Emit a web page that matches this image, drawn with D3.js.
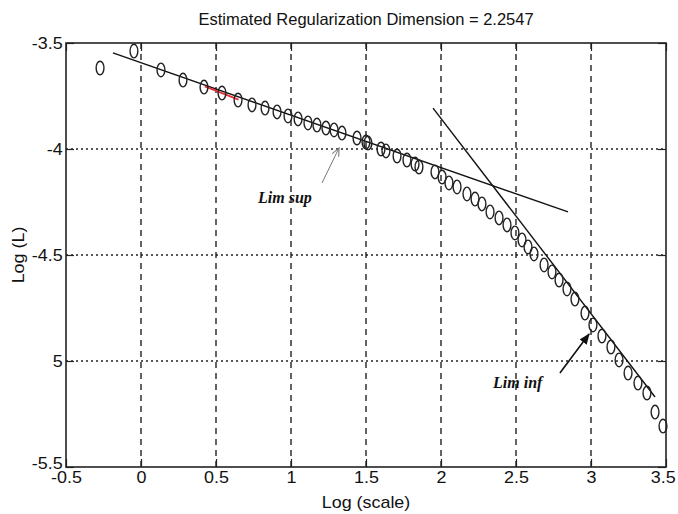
<!DOCTYPE html>
<html>
<head>
<meta charset="utf-8">
<script src="https://cdn.jsdelivr.net/npm/d3@7"></script>
<style>
  body { margin: 0; background: #fff; }
  text { font-family: "Liberation Sans", Arial, sans-serif; fill: #111; }
  .note { font-family: "Liberation Serif", "Times New Roman", serif; font-style: italic; font-weight: bold; }
</style>
</head>
<body>
<svg id="chart" width="678" height="514"></svg>
<script>
// Data
const logScale = [-0.273, -0.047, 0.133, 0.280, 0.420, 0.540, 0.647, 0.740, 0.827, 0.907,
  0.980, 1.047, 1.113, 1.173, 1.233, 1.287, 1.340, 1.440, 1.500, 1.513,
  1.600, 1.633, 1.707, 1.773, 1.827, 1.853, 1.960, 2.007, 2.053, 2.107,
  2.173, 2.227, 2.273, 2.327, 2.387, 2.440, 2.493, 2.540, 2.580, 2.620,
  2.687, 2.740, 2.787, 2.840, 2.893, 2.960, 3.013, 3.073, 3.133, 3.187,
  3.247, 3.313, 3.373, 3.427, 3.480];
const logL = [-3.618, -3.538, -3.627, -3.675, -3.708, -3.736, -3.769, -3.792, -3.807, -3.825,
  -3.844, -3.858, -3.877, -3.887, -3.901, -3.910, -3.925, -3.948, -3.967, -3.972,
  -4.000, -4.009, -4.033, -4.052, -4.071, -4.085, -4.108, -4.132, -4.160, -4.179,
  -4.212, -4.236, -4.259, -4.297, -4.325, -4.358, -4.396, -4.429, -4.462, -4.495,
  -4.547, -4.580, -4.618, -4.660, -4.708, -4.774, -4.830, -4.882, -4.934, -4.995,
  -5.057, -5.104, -5.151, -5.241, -5.307];

// fitted lines
const limSupX = [-0.187, 2.847];
const limSupY = [-3.547, -4.297];
const limInfX = [1.947, 3.427];
const limInfY = [-3.807, -5.170];
const redX = [0.425, 0.650];
const redY = [-3.705, -3.767];

// ticks
const xTicks = [-0.5, 0, 0.5, 1, 1.5, 2, 2.5, 3, 3.5];
const xTickLabels = ['-0.5', '0', '0.5', '1', '1.5', '2', '2.5', '3', '3.5'];
const yTicks = [-3.5, -4, -4.5, -5, -5.5];
const yTickLabels = ['-3.5', '-4', '-4.5', '5', '-5.5'];

// annotations: [label x, label y, arrow from x, from y, arrow to x, to y]
const supNote = [0.780, -4.255, 1.207, -4.160, 1.320, -3.995];
const infNote = [2.347, -5.127, 2.793, -5.057, 2.987, -4.873];

const width = 678;
const height = 514;
const margin = { top: 43, right: 12, bottom: 47, left: 66 };

const svg = d3.select('#chart');

const x = d3.scaleLinear()
  .domain([-0.5, 3.5])
  .range([margin.left, width - margin.right]);

const y = d3.scaleLinear()
  .domain([-5.5, -3.5])
  .range([height - margin.bottom, margin.top]);

// arrow heads
const defs = svg.append('defs');
defs.append('marker')
    .attr('id', 'head-grey')
    .attr('viewBox', '0 0 10 10')
    .attr('refX', 9).attr('refY', 5)
    .attr('markerWidth', 9).attr('markerHeight', 9)
    .attr('markerUnits', 'userSpaceOnUse')
    .attr('orient', 'auto')
  .append('path')
    .attr('d', 'M0,1 L9,5 L0,9')
    .attr('fill', 'none')
    .attr('stroke', '#777')
    .attr('stroke-width', 1.2);
defs.append('marker')
    .attr('id', 'head-black')
    .attr('viewBox', '0 0 10 10')
    .attr('refX', 9).attr('refY', 5)
    .attr('markerWidth', 11).attr('markerHeight', 11)
    .attr('markerUnits', 'userSpaceOnUse')
    .attr('orient', 'auto')
  .append('path')
    .attr('d', 'M0,1 L10,5 L0,9 Z')
    .attr('fill', '#111');

// grid
svg.append('g')
  .selectAll('line')
  .data(xTicks.slice(1, -1))
  .join('line')
    .attr('x1', d => x(d)).attr('x2', d => x(d))
    .attr('y1', y(-3.5)).attr('y2', y(-5.5))
    .attr('stroke', '#222')
    .attr('stroke-width', 1.4)
    .attr('stroke-dasharray', '6,5');

svg.append('g')
  .selectAll('line')
  .data(yTicks.slice(1, -1))
  .join('line')
    .attr('x1', x(-0.5)).attr('x2', x(3.5))
    .attr('y1', d => y(d)).attr('y2', d => y(d))
    .attr('stroke', '#222')
    .attr('stroke-width', 1.4)
    .attr('stroke-dasharray', '2,3');

// axes, ticks pointing inward
const bottomAxis = svg.append('g')
  .attr('transform', `translate(0,${y(-5.5)})`)
  .call(d3.axisBottom(x).tickValues(xTicks).tickSize(-8).tickPadding(5)
    .tickFormat((d, i) => xTickLabels[i]));

const topAxis = svg.append('g')
  .attr('transform', `translate(0,${y(-3.5)})`)
  .call(d3.axisTop(x).tickValues(xTicks).tickSize(-8).tickFormat(''));

const leftAxis = svg.append('g')
  .attr('transform', `translate(${x(-0.5)},0)`)
  .call(d3.axisLeft(y).tickValues(yTicks).tickSize(-8).tickPadding(3)
    .tickFormat((d, i) => yTickLabels[i]));

const rightAxis = svg.append('g')
  .attr('transform', `translate(${x(3.5)},0)`)
  .call(d3.axisRight(y).tickValues(yTicks).tickSize(-8).tickFormat(''));

[bottomAxis, topAxis, leftAxis, rightAxis].forEach(g => {
  g.select('.domain').remove();
  g.selectAll('.tick line').attr('stroke', '#222').attr('stroke-width', 1.2);
  g.selectAll('.tick text')
    .attr('font-size', 16)
    .attr('font-family', '"Liberation Sans", Arial, sans-serif')
    .attr('fill', '#111')
    .attr('transform', 'scale(1.12,1)');
});

// the last x label is pulled in a little so it stays inside the window
bottomAxis.selectAll('.tick text')
  .filter(d => d === 3.5)
  .attr('dx', -3);

// the lowest y label sits a little above its tick, clear of the x labels
leftAxis.selectAll('.tick text')
  .filter(d => d === -5.5)
  .attr('dy', '0.1em');

// box
svg.append('rect')
  .attr('x', x(-0.5))
  .attr('y', y(-3.5))
  .attr('width', x(3.5) - x(-0.5))
  .attr('height', y(-5.5) - y(-3.5))
  .attr('fill', 'none')
  .attr('stroke', '#222')
  .attr('stroke-width', 1.6);

// fitted lines
const line = d3.line().x(d => x(d[0])).y(d => y(d[1]));

svg.append('path')
  .attr('d', line(d3.zip(limSupX, limSupY)))
  .attr('stroke', '#111')
  .attr('stroke-width', 1.4)
  .attr('fill', 'none');

svg.append('path')
  .attr('d', line(d3.zip(limInfX, limInfY)))
  .attr('stroke', '#111')
  .attr('stroke-width', 1.4)
  .attr('fill', 'none');

// red segment
svg.append('path')
  .attr('d', line(d3.zip(redX, redY)))
  .attr('stroke', '#e8303a')
  .attr('stroke-width', 1.8)
  .attr('fill', 'none');

// markers
svg.append('g')
  .selectAll('ellipse')
  .data(d3.zip(logScale, logL))
  .join('ellipse')
    .attr('cx', d => x(d[0]))
    .attr('cy', d => y(d[1]))
    .attr('rx', 3.9)
    .attr('ry', 6.8)
    .attr('fill', 'none')
    .attr('stroke', '#222')
    .attr('stroke-width', 1.4);

// annotations
svg.append('text')
  .attr('class', 'note')
  .attr('x', x(supNote[0]))
  .attr('y', y(supNote[1]))
  .attr('font-size', 16)
  .text('Lim sup');

svg.append('line')
  .attr('x1', x(supNote[2])).attr('y1', y(supNote[3]))
  .attr('x2', x(supNote[4])).attr('y2', y(supNote[5]))
  .attr('stroke', '#777')
  .attr('stroke-width', 1)
  .attr('marker-end', 'url(#head-grey)');

svg.append('text')
  .attr('class', 'note')
  .attr('x', x(infNote[0]))
  .attr('y', y(infNote[1]))
  .attr('font-size', 16)
  .text('Lim inf');

svg.append('line')
  .attr('x1', x(infNote[2])).attr('y1', y(infNote[3]))
  .attr('x2', x(infNote[4])).attr('y2', y(infNote[5]))
  .attr('stroke', '#111')
  .attr('stroke-width', 1.6)
  .attr('marker-end', 'url(#head-black)');

// titles
const midX = (x(-0.5) + x(3.5)) / 2;

svg.append('text')
  .attr('x', midX)
  .attr('y', 25)
  .attr('text-anchor', 'middle')
  .attr('font-size', 16.5)
  .text('Estimated Regularization Dimension = 2.2547');

svg.append('text')
  .attr('transform', `translate(${midX},508) scale(1.12,1)`)
  .attr('text-anchor', 'middle')
  .attr('font-size', 16)
  .text('Log (scale)');

svg.append('text')
  .attr('transform', `translate(24,${(y(-3.5) + y(-5.5)) / 2}) rotate(-90) scale(1.12,1)`)
  .attr('text-anchor', 'middle')
  .attr('font-size', 16)
  .text('Log (L)');
</script>
</body>
</html>
